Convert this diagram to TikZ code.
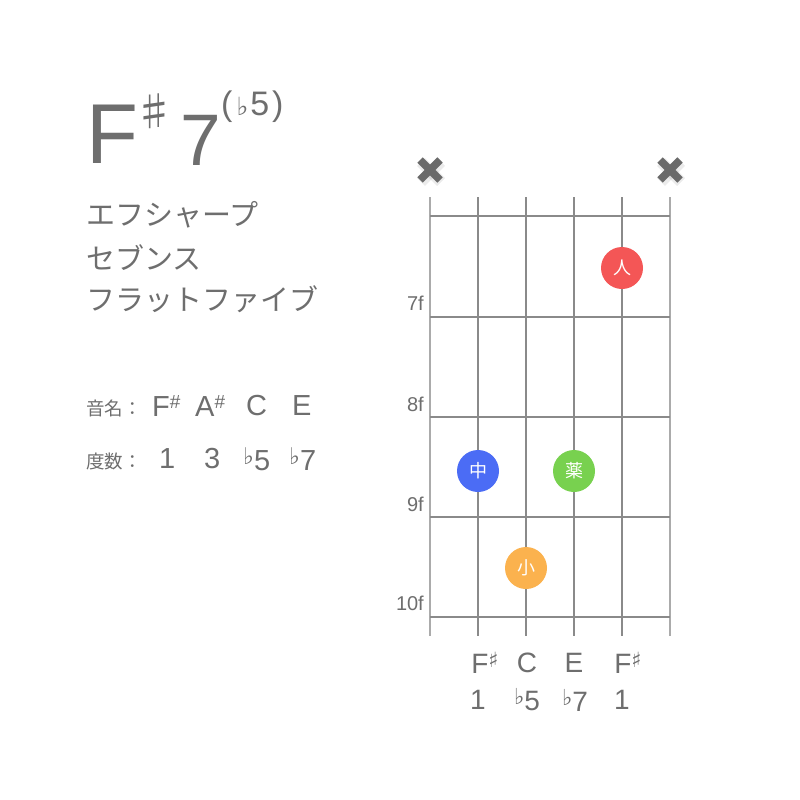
\documentclass[tikz,border=0pt]{standalone}
\usepackage{fontspec}
\setmainfont{Liberation Sans}
\newfontfamily\jp{Noto Sans CJK JP}
\newfontfamily\sym{DejaVu Sans}
\definecolor{txt}{HTML}{6E6E6E}
\definecolor{fretc}{HTML}{8A8A8A}
\definecolor{outerc}{HTML}{ABABAB}
\definecolor{dred}{HTML}{F45656}
\definecolor{dblue}{HTML}{4B6CF5}
\definecolor{dgreen}{HTML}{78D14F}
\definecolor{dorange}{HTML}{FBB24E}
\definecolor{xc}{HTML}{6A6A6A}
\tikzset{
  lbl/.style={inner sep=0pt, text=txt},
  fretline/.style={draw=fretc, line width=1.2pt},
  innerstr/.style={draw=fretc, line width=1.2pt},
  outerstr/.style={draw=outerc, line width=2pt},
  dot/.style={circle, minimum size=42pt, inner sep=0pt, text=white, font=\jp\fontsize{18}{18}\selectfont},
  mute/.style={draw=xc, line width=7.5pt},
  muteshadow/.style={draw=black, opacity=0.08, line width=11pt},
  fretno/.style={lbl, anchor=east, font=\fontsize{20}{20}\selectfont},
  note/.style={lbl, font=\fontsize{28}{28}\selectfont},
  noteb/.style={lbl, font=\fontsize{29}{29}\selectfont},
}
\newcommand{\flt}[1]{\raisebox{6pt}{\sym\fontsize{#1}{#1}\selectfont ♭}}
\newcommand{\shp}[1]{\raisebox{6pt}{\sym\fontsize{#1}{#1}\selectfont ♯}}
\begin{document}
\begin{tikzpicture}[x=1pt,y=-1pt]
\fill[white] (0,0) rectangle (800,800);
\useasboundingbox (0,0) rectangle (800,800);

% title
\node[lbl, anchor=base west, font=\fontsize{85}{85}\selectfont] (tF) at (86,163) {F};
\node[lbl, anchor=base west, font=\jp\fontsize{40}{40}\selectfont] (tsh) at (134,126) {♯};
\node[lbl, anchor=base west, font=\fontsize{73}{73}\selectfont] (t7) at (180,165) {7};
\node[lbl, anchor=base west, font=\fontsize{34}{34}\selectfont] (tsup) at (221,115) {(\hspace{4pt}{\sym\fontsize{25}{25}\selectfont ♭}\hspace{2pt}5\hspace{3pt})};

% japanese name
\node[lbl, anchor=west, font=\jp\fontsize{29}{29}\selectfont] (n1) at (86,215) {エフシャープ};
\node[lbl, anchor=west, font=\jp\fontsize{29}{29}\selectfont] (n2) at (86,258) {セブンス};
\node[lbl, anchor=west, font=\jp\fontsize{29}{29}\selectfont] (n3) at (86,299) {フラットファイブ};

% note names
\node[lbl, anchor=west, font=\jp\fontsize{18.5}{18.5}\selectfont] (onmei) at (86,408) {音名：};
\node[noteb, anchor=west] (nF) at (152,406) {F\raisebox{8pt}{\fontsize{19}{19}\selectfont \#}};
\node[noteb, anchor=west] (nA) at (195,406) {A\raisebox{8pt}{\fontsize{19}{19}\selectfont \#}};
\node[noteb, anchor=west] (nC) at (246,406) {C};
\node[noteb, anchor=west] (nE) at (292,406) {E};

\node[lbl, anchor=west, font=\jp\fontsize{18.5}{18.5}\selectfont] (dosu) at (86,461) {度数：};
\node[noteb, anchor=west] (d1) at (159,459) {1};
\node[noteb, anchor=west] (d3) at (204,459) {3};
\node[noteb, anchor=west] (d5) at (243,459) {\flt{23}5};
\node[noteb, anchor=west] (d7) at (289,459) {\flt{23}7};

% strings
\foreach \i/\x in {1/430,6/670}{
  \coordinate (st\i) at (\x,197);
  \coordinate (sb\i) at (\x,636);
  \draw[outerstr] (st\i) -- (sb\i);
}
\foreach \i/\x in {2/478,3/526,4/574,5/622}{
  \coordinate (st\i) at (\x,197);
  \coordinate (sb\i) at (\x,636);
  \draw[innerstr] (st\i) -- (sb\i);
}
% frets
\foreach \j/\y in {0/216,1/317,2/417,3/517,4/617}{
  \coordinate (fl\j) at (430,\y);
  \coordinate (fr\j) at (670,\y);
  \draw[fretline] (fl\j) -- (fr\j);
}

% fret numbers
\node[fretno] (f7) at (424,303) {7f};
\node[fretno] (f8) at (424,404) {8f};
\node[fretno] (f9) at (424,504) {9f};
\node[fretno] (f10) at (424,603) {10f};

% mutes
\coordinate (x1) at (430,170);
\coordinate (x6) at (670,170);
\foreach \c in {x1,x6}{
  \draw[muteshadow] ([shift={(-9,-8)}]\c) -- ([shift={(11,12)}]\c);
  \draw[muteshadow] ([shift={(-9,12)}]\c) -- ([shift={(11,-8)}]\c);
  \draw[mute] ([shift={(-10,-10)}]\c) -- ([shift={(10,10)}]\c);
  \draw[mute] ([shift={(-10,10)}]\c) -- ([shift={(10,-10)}]\c);
}

% dots
\node[dot, fill=dred] (dotR) at (622,268) {人};
\node[dot, fill=dblue] (dotB) at (478,471) {中};
\node[dot, fill=dgreen] (dotG) at (574,471) {薬};
\node[dot, fill=dorange] (dotO) at (526,568) {小};

% bottom labels
\node[note] (b1) at (485,663) {F\shp{21}};
\node[note] (b2) at (527,663) {C};
\node[note] (b3) at (574,663) {E};
\node[note] (b4) at (628,663) {F\shp{21}};
\node[note] (c1) at (478,700) {1};
\node[note] (c2) at (527,700) {\flt{22}5};
\node[note] (c3) at (575,700) {\flt{22}7};
\node[note] (c4) at (622,700) {1};
\end{tikzpicture}
\end{document}
